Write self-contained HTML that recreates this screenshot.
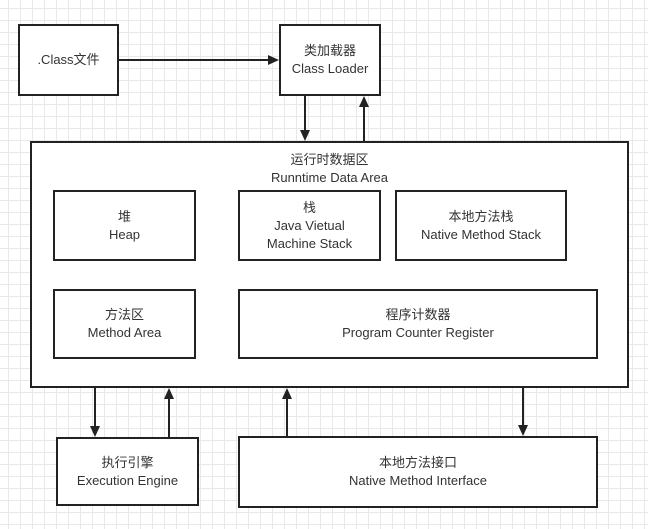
<!DOCTYPE html>
<html><head><meta charset="utf-8"><style>
body{margin:0;width:648px;height:529px;overflow:hidden;background:#fff;
background-image:linear-gradient(#e8e8e8 1px,transparent 1px),linear-gradient(90deg,#e8e8e8 1px,transparent 1px);
background-size:12px 12px;background-position:8px 8px;
font-family:"Liberation Sans","Noto Sans CJK SC",sans-serif;font-size:13px;color:#333}
.b{position:absolute;border:2px solid #222;background:#fff;box-sizing:border-box;display:flex;align-items:center;justify-content:center;text-align:center;line-height:18px}
</style></head><body>
<div class="b" style="left:18px;top:24px;width:101px;height:72px">.Class文件</div>
<div class="b" style="left:279px;top:24px;width:102px;height:72px">类加载器<br>Class Loader</div>
<div class="b" style="left:30px;top:141px;width:599px;height:247px;align-items:flex-start;padding-top:8px">运行时数据区<br>Runntime Data Area</div>
<div class="b" style="left:53px;top:190px;width:143px;height:71px">堆<br>Heap</div>
<div class="b" style="left:238px;top:190px;width:143px;height:71px">栈<br>Java Vietual<br>Machine Stack</div>
<div class="b" style="left:395px;top:190px;width:172px;height:71px">本地方法栈<br>Native Method Stack</div>
<div class="b" style="left:53px;top:289px;width:143px;height:70px">方法区<br>Method Area</div>
<div class="b" style="left:238px;top:289px;width:360px;height:70px">程序计数器<br>Program Counter Register</div>
<div class="b" style="left:56px;top:437px;width:143px;height:69px">执行引擎<br>Execution Engine</div>
<div class="b" style="left:238px;top:436px;width:360px;height:72px">本地方法接口<br>Native Method Interface</div>
<svg width="648" height="529" style="position:absolute;left:0;top:0" stroke="#222" stroke-width="2" fill="#222">
<line x1="119" y1="60" x2="270" y2="60"/><polygon points="279,60 268,55 268,65" stroke="none"/>
<line x1="305" y1="96" x2="305" y2="132"/><polygon points="305,141 300,130 310,130" stroke="none"/>
<line x1="364" y1="141" x2="364" y2="106"/><polygon points="364,96 359,107 369,107" stroke="none"/>
<line x1="95" y1="388" x2="95" y2="428"/><polygon points="95,437 90,426 100,426" stroke="none"/>
<line x1="169" y1="437" x2="169" y2="398"/><polygon points="169,388 164,399 174,399" stroke="none"/>
<line x1="287" y1="436" x2="287" y2="398"/><polygon points="287,388 282,399 292,399" stroke="none"/>
<line x1="523" y1="388" x2="523" y2="427"/><polygon points="523,436 518,425 528,425" stroke="none"/>
</svg>
</body></html>
